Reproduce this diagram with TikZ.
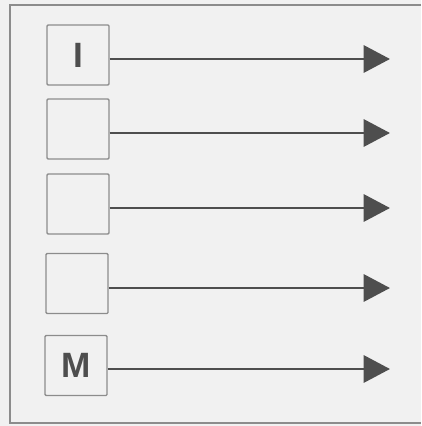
\documentclass[tikz,border=0pt]{standalone}
\usepackage{fontspec}
\setsansfont{Liberation Sans}
\usepackage{tikz}
\usetikzlibrary{positioning, arrows.meta}
\definecolor{paper}{HTML}{F1F1F1}
\definecolor{frameline}{HTML}{8C8C8C}
\definecolor{inkgray}{HTML}{4E4E4E}

\begin{document}
\begin{tikzpicture}[x=0.025cm, y=-0.025cm, font=\sffamily\bfseries,
    slotbox/.style={draw=frameline, line width=0.9pt, rounded corners=0.8pt, fill=paper, minimum width=1.55cm, minimum height=1.5cm, inner sep=0pt, text=inkgray, font=\sffamily\bfseries\fontsize{25}{25}\selectfont},
    outarrow/.style={-{Triangle[length=6.6mm, width=6.8mm]}, line width=2pt, inkgray}]
  \useasboundingbox (0,0) rectangle (421,426);
  \fill[paper] (0,0) rectangle (421,426);
  \draw[frameline, line width=1.1pt] (421,5) -- (10,5) -- (10,423) -- (421,423);

  \node[slotbox] (bi) at (78,55) {I};
  \node[slotbox] (b2) at (78,129) {};
  \node[slotbox] (b3) at (78,204) {};
  \node[slotbox] (b4) at (77,283.5) {};
  \node[slotbox] (bm) at (76,365.5) {M};

  \coordinate (e1) at (390,59);
  \coordinate (e2) at (390,133);
  \coordinate (e3) at (390,208);
  \coordinate (e4) at (390,288);
  \coordinate (e5) at (390,369);

  \draw[outarrow] (e1 -| bi.east) -- (e1);
  \draw[outarrow] (e2 -| b2.east) -- (e2);
  \draw[outarrow] (e3 -| b3.east) -- (e3);
  \draw[outarrow] (e4 -| b4.east) -- (e4);
  \draw[outarrow] (e5 -| bm.east) -- (e5);
\end{tikzpicture}
\end{document}
